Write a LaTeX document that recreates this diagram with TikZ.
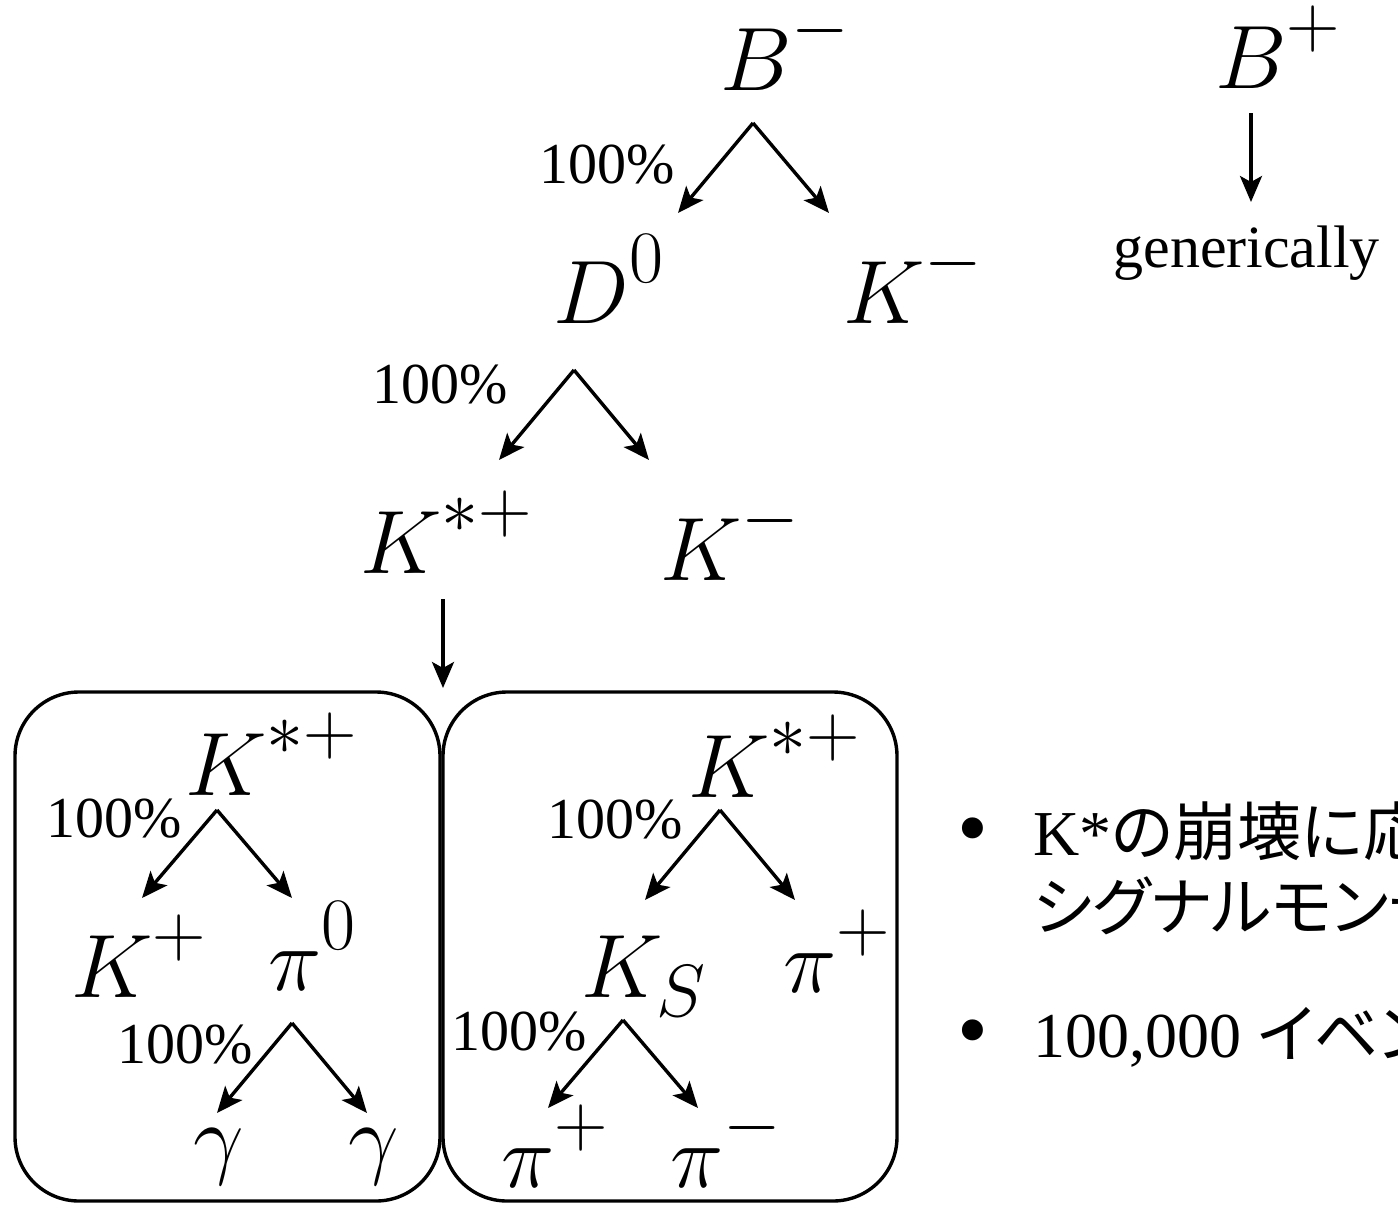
\RequirePackage{fix-cm}
\documentclass[tikz,border=0pt]{standalone}
\usepackage[no-math]{fontspec}
\newfontfamily\timesfont{Liberation Serif}
\newfontfamily\jpfont[RawFeature=+palt]{Noto Sans CJK JP}
\DeclareMathSizes{45}{45}{37}{30}
\newcommand\chg[1]{^{\raisebox{4pt}{$\scriptstyle #1$}}}
\usetikzlibrary{arrows.meta}

\begin{document}
\begin{tikzpicture}[
  x=0.5pt, y=-0.5pt,
  >=Stealth,
  particle/.style={inner sep=0pt, anchor=base west, font=\fontsize{45}{54}\selectfont},
  ratio/.style={inner sep=0pt, anchor=base east, font=\timesfont\fontsize{29}{34}\selectfont},
  note/.style={inner sep=0pt, anchor=base west, font=\fontsize{32}{38}\selectfont},
  dot/.style={inner sep=0pt, anchor=base west, font=\timesfont\fontsize{44}{50}\selectfont},
  decay/.style={line width=1.7pt, -{Stealth[length=13pt, width=11pt, inset=3pt]}},
  panel/.style={line width=1.7pt, rounded corners=32pt}
]
\useasboundingbox (0,0) rectangle (1398,1205);

% B- chain
\node[particle] (bm) at (720,90) {$B\chg{-}$};
\node[particle] (d0) at (553,323) {$D\chg{0}$};
\node[particle] (km1) at (843,323) {$K\chg{-}$};
\node[particle] (ksp) at (360,573) {$K\chg{*+}$};
\node[particle] (km2) at (660,580) {$K\chg{-}$};

\node[ratio] (r1) at (675,183) {100\%};
\node[ratio] (r2) at (508,403) {100\%};

\coordinate (s1) at (753,123);
\coordinate (s1l) at (678,213);
\coordinate (s1r) at (829,213);
\coordinate (s2) at (574,370);
\coordinate (s2l) at (499,460);
\coordinate (s2r) at (649,460);
\coordinate (s3) at (443,599);
\coordinate (s3e) at (443,688);

\draw[decay] (s1) -- (s1l);
\draw[decay] (s1) -- (s1r);
\draw[decay] (s2) -- (s2l);
\draw[decay] (s2) -- (s2r);
\draw[decay] (s3) -- (s3e);

% B+ side
\node[particle] (bp) at (1215,88) {$B\chg{+}$};
\node[inner sep=0pt, anchor=base west, font=\timesfont\fontsize{30}{36}\selectfont] (gen) at (1113,267) {generically};
\coordinate (s4) at (1251,113);
\coordinate (s4e) at (1251,202);
\draw[decay] (s4) -- (s4e);

% K*+ -> K+ pi0 box
\draw[panel] (15,692) rectangle (440,1201);
\node[particle] (lkst) at (185,795) {$K\chg{*+}$};
\node[particle] (lkp) at (71,997) {$K\chg{+}$};
\node[particle] (lpi0) at (268,990) {$\pi\chg{0}$};
\node[particle] (lg1) at (193,1167) {$\gamma$};
\node[particle] (lg2) at (348,1167) {$\gamma$};
\node[ratio] (r3) at (182,837) {100\%};
\node[ratio] (r4) at (253,1063) {100\%};

\coordinate (s5) at (217,810);
\coordinate (s5l) at (142,898);
\coordinate (s5r) at (292,898);
\coordinate (s6) at (292,1023);
\coordinate (s6l) at (217,1113);
\coordinate (s6r) at (367,1113);
\draw[decay] (s5) -- (s5l);
\draw[decay] (s5) -- (s5r);
\draw[decay] (s6) -- (s6l);
\draw[decay] (s6) -- (s6r);

% K*+ -> KS pi+ box
\draw[panel] (443,692) rectangle (897,1201);
\node[particle] (rkst) at (688,797) {$K\chg{*+}$};
\node[particle] (rks) at (581,997) {$K_S$};
\node[particle] (rpip) at (783,992) {$\pi\chg{+}$};
\node[particle] (rpp) at (501,1187) {$\pi\chg{+}$};
\node[particle] (rpm) at (670,1187) {$\pi\chg{-}$};
\node[ratio] (r5) at (683,838) {100\%};
\node[ratio] (r6) at (587,1050) {100\%};

\coordinate (s7) at (720,810);
\coordinate (s7l) at (645,900);
\coordinate (s7r) at (795,900);
\coordinate (s8) at (623,1020);
\coordinate (s8l) at (548,1108);
\coordinate (s8r) at (698,1108);
\draw[decay] (s7) -- (s7l);
\draw[decay] (s7) -- (s7r);
\draw[decay] (s8) -- (s8l);
\draw[decay] (s8) -- (s8r);

% notes
\node[dot] (bul1) at (957,857) {•};
\node[note] (item1a) at (1033,855) {\timesfont K*\jpfont の崩壊に応};
\node[note] (item1b) at (1033,930) {\jpfont シグナルモンテ};
\node[dot] (bul2) at (957,1059) {•};
\node[note] (item2) at (1033,1057) {\timesfont 100,000 \jpfont イベン};

\end{tikzpicture}
\end{document}
